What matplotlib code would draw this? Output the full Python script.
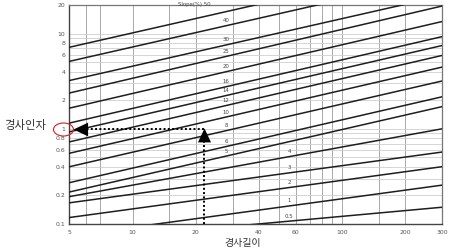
import numpy as np
import matplotlib
matplotlib.use("Agg")
import matplotlib.pyplot as plt
from matplotlib.path import Path
from matplotlib.patches import Ellipse

plt.rcParams['font.family'] = ['Noto Sans CJK KR', 'DejaVu Sans']

# ---- data ----
slopes = ['50', '40', '30', '25', '20', '16', '14', '12', '10', '8', '6', '5', '4', '3', '2', '1', '0.5']
ls_at_5 = [7.2, 5.12, 3.22, 2.38, 1.65, 1.15, 0.93, 0.73, 0.554, 0.40, 0.272, 0.217, 0.194, 0.167, 0.117, 0.075, 0.066]
ls_at_300 = [55.8, 39.7, 24.9, 19.5, 13.4, 9.3, 7.5, 5.9, 4.45, 3.18, 2.17, 1.71, 1.0, 0.57, 0.40, 0.256, 0.15]
length_ends = [5, 300]
x_ticks = [5, 10, 20, 40, 60, 100, 200, 300]
y_ticks = [0.1, 0.2, 0.4, 0.6, 0.8, 1, 2, 4, 6, 8, 10, 20]
y_tick_labels = ['0.1', '0.2', '0.4', '0.6', '0.8', '1', '2', '4', '6', '8', '10', '20']
x_grid = [6, 7, 10, 15, 20, 30, 40, 50, 60, 70, 80, 90, 100, 150, 200]
example_length = 22
example_factor = 1.0
arrow_end_length = 5.2

W, H = 452, 250
fig = plt.figure(figsize=(W / 100, H / 100), dpi=100)
ax = fig.add_axes([69.5 / W, 1 - 224 / H, (442 - 69.5) / W, (224 - 5) / H])
ax.set_xscale('log')
ax.set_yscale('log')
ax.set_xlim(5, 300)
ax.set_ylim(0.1, 20)

# grid
for gx in x_grid:
    ax.axvline(gx, color='#a8a8a8', lw=0.7, zorder=1)
for dec in [0.1, 1, 10]:
    for k in range(1, 10):
        v = dec * k
        if 0.1 < v < 20:
            ax.axhline(v, color='#cfcfcf', lw=0.6, zorder=1)

# slope lines
def val_at(i, x):
    m = np.log(ls_at_300[i] / ls_at_5[i]) / np.log(length_ends[1] / length_ends[0])
    return ls_at_5[i] * (x / length_ends[0]) ** m

for i, s in enumerate(slopes):
    ax.plot(length_ends, [ls_at_5[i], ls_at_300[i]], color='#1e1e1e', lw=1.1, zorder=3)

# line labels
for i, s in enumerate(slopes):
    if s == '50':
        ax.annotate('Slope(%) 50', xy=(23.7, val_at(i, 23.7)), xytext=(0, 7.5),
                    textcoords='offset points', ha='right', va='center',
                    fontsize=3.9, color='#444444', zorder=4, family=['DejaVu Sans'])
    else:
        lx = 28 if float(s) >= 5 else 56
        ax.annotate(s, xy=(lx, val_at(i, lx)), xytext=(0, 3.6),
                    textcoords='offset points', ha='center', va='center',
                    fontsize=3.9, color='#444444', zorder=4, family=['DejaVu Sans'])

# ticks
ax.set_xticks(x_ticks)
ax.set_xticklabels([str(v) for v in x_ticks])
ax.set_yticks(y_ticks)
ax.set_yticklabels(y_tick_labels)
ax.minorticks_off()
ax.tick_params(axis='both', length=0, labelsize=4.4, labelcolor='#555555')
ax.tick_params(axis='x', pad=4)
ax.tick_params(axis='y', pad=3)
for lab in ax.get_xticklabels() + ax.get_yticklabels():
    lab.set_family(['DejaVu Sans'])

for side in ['left', 'bottom']:
    ax.spines[side].set_color('#444444')
    ax.spines[side].set_linewidth(1.0)
for side in ['top', 'right']:
    ax.spines[side].set_color('#777777')
    ax.spines[side].set_linewidth(0.9)

# dotted example arrows
dot = (0, (1.0, 1.2))
ax.plot([example_length, example_length], [0.1, example_factor * 0.97], color='black',
        lw=1.4, linestyle=dot, zorder=5, clip_on=False)
ax.plot([example_length, arrow_end_length * 1.15], [example_factor, example_factor], color='black',
        lw=1.4, linestyle=dot, zorder=5)

up = Path([(0, 0), (-0.47, -1), (0.47, -1), (0, 0)], [Path.MOVETO, Path.LINETO, Path.LINETO, Path.CLOSEPOLY])
left = Path([(0, 0), (1, -0.47), (1, 0.47), (0, 0)], [Path.MOVETO, Path.LINETO, Path.LINETO, Path.CLOSEPOLY])
ax.plot([example_length], [example_factor * 1.01], marker=up, ms=20, color='black', mec='black', mew=0, zorder=6)
ax.plot([arrow_end_length], [example_factor], marker=left, ms=21, color='black', mec='black', mew=0, zorder=6)

# red circle around "1"
fig.patches.append(Ellipse((63.5 / W, 1 - 129.5 / H), 20 / W, 13 / H, transform=fig.transFigure,
                           fill=False, edgecolor='#d42020', lw=0.8))

# axis titles
fig.text(46 / W, 1 - 126 / H, '경사인자', ha='right', va='center', fontsize=8.2, color='#333333')
fig.text(243 / W, 1 - 243 / H, '경사길이', ha='center', va='center', fontsize=7.2, color='#333333')

fig.savefig('out.png', dpi=100)
